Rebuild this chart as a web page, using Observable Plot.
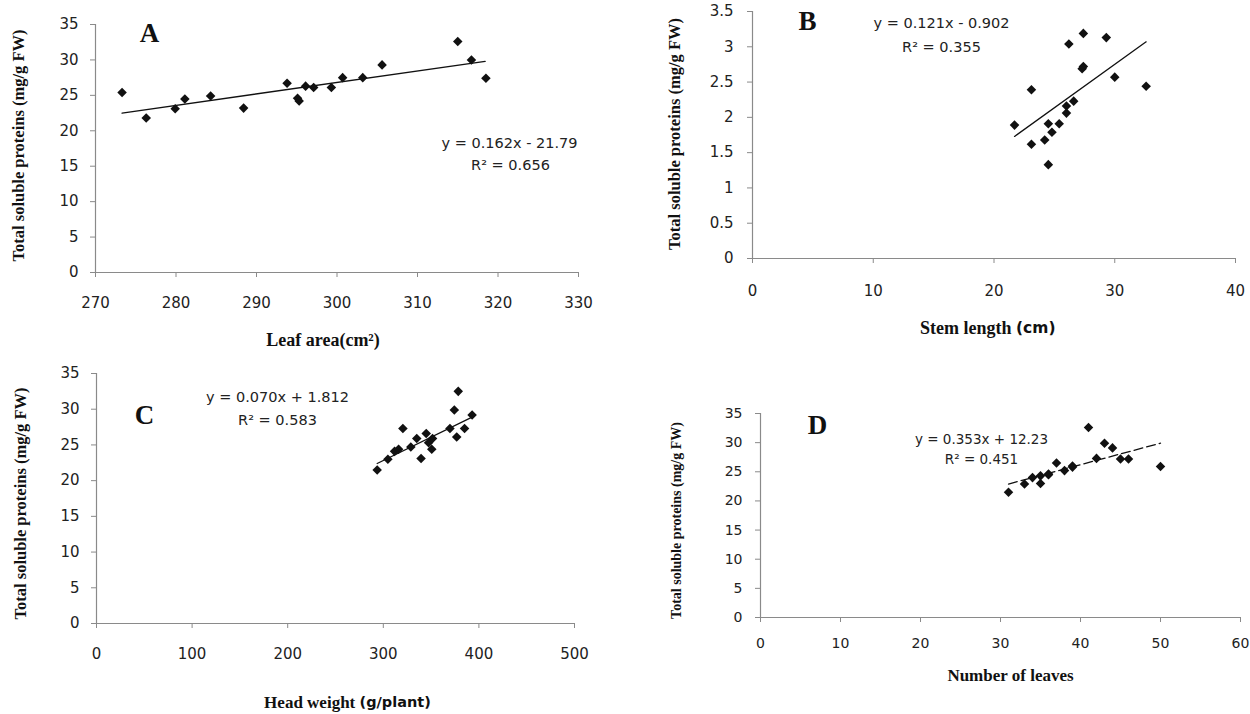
<!DOCTYPE html>
<html><head><meta charset="utf-8">
<script src="https://cdn.jsdelivr.net/npm/d3@7"></script>
<script src="https://cdn.jsdelivr.net/npm/@observablehq/plot@0.6"></script>
<style>
body{margin:0;background:#fff;}
#wrap{position:relative;width:1250px;height:714px;overflow:hidden;background:#fff;}
#wrap > *{position:absolute;}
</style></head><body><div id="wrap"></div>
<script>
// ---- Data ----
const yTitle = "Total soluble proteins (mg/g FW)";

// A: Leaf area
const leafArea = [273.3, 276.3, 279.9, 281.1, 284.3, 288.4, 293.8, 295.1, 295.3, 296.1, 297.1, 299.3, 300.7, 303.2, 305.6, 315.0, 316.7, 318.5];
const proteinA = [25.4, 21.8, 23.1, 24.5, 24.9, 23.2, 26.7, 24.6, 24.2, 26.3, 26.1, 26.1, 27.5, 27.5, 29.3, 32.6, 30.0, 27.4];
const trendAx = [273.3, 318.4];
const trendAy = [22.5, 29.8];
const xTicksA = [270, 280, 290, 300, 310, 320, 330];
const yTicksA = [0, 5, 10, 15, 20, 25, 30, 35];

// B: Stem length
const stemLength = [21.7, 23.1, 23.1, 24.2, 24.5, 24.5, 24.8, 25.4, 26.0, 26.0, 26.2, 26.6, 27.3, 27.4, 27.4, 29.3, 30.0, 32.6];
const proteinB = [1.89, 2.39, 1.62, 1.68, 1.91, 1.33, 1.79, 1.91, 2.06, 2.16, 3.04, 2.23, 2.69, 2.72, 3.19, 3.13, 2.57, 2.44];
const trendBx = [21.7, 32.6];
const trendBy = [1.73, 3.07];
const xTicksB = [0, 10, 20, 30, 40];
const yTicksB = [0, 0.5, 1, 1.5, 2, 2.5, 3, 3.5];

// C: Head weight
const headWeight = [293.6, 304.8, 311.8, 316.0, 320.5, 328.8, 335.0, 339.5, 344.9, 347.4, 350.7, 351.5, 369.7, 374.3, 376.8, 378.4, 385.0, 392.9];
const proteinC = [21.5, 23.0, 24.1, 24.4, 27.3, 24.7, 25.9, 23.1, 26.6, 25.3, 24.4, 25.9, 27.3, 29.9, 26.1, 32.5, 27.3, 29.2];
const trendCx = [293.6, 392.9];
const trendCy = [22.4, 28.9];
const xTicksC = [0, 100, 200, 300, 400, 500];
const yTicksC = [0, 5, 10, 15, 20, 25, 30, 35];

// D: Number of leaves
const leafCount = [31, 33, 34, 35, 35, 36, 36, 37, 38, 39, 39, 41, 42, 43, 44, 45, 46, 50];
const proteinD = [21.5, 22.9, 24.0, 24.3, 23.0, 24.5, 24.6, 26.5, 25.2, 25.8, 26.0, 32.6, 27.3, 29.9, 29.1, 27.2, 27.2, 25.9];
const trendDx = [31, 50];
const trendDy = [22.9, 29.9];
const xTicksD = [0, 10, 20, 30, 40, 50, 60];
const yTicksD = [0, 5, 10, 15, 20, 25, 30, 35];

// ---- Drawing ----
const SERIF = "'Liberation Serif', 'DejaVu Serif', serif";
const SANS = "'DejaVu Sans', 'Open Sans', sans-serif";
const AXIS = "#8a8a8a";
const INK = "#111";

function zip(xs, ys) { return xs.map((x, i) => ({x, y: ys[i]})); }

function panel(o) {
  const pts = zip(o.xs, o.ys);
  const trend = zip(o.tx, o.ty);
  const tf = o.tickFont || 15;
  const ef = o.eqFont || 14.5;
  const marks = [
    Plot.ruleY([o.yTicks[0]], {stroke: AXIS, strokeWidth: 1.2}),
    Plot.ruleX([o.xTicks[0]], {stroke: AXIS, strokeWidth: 1.2}),
    Plot.axisX({ticks: o.xTicks, tickSize: 5, tickPadding: o.xPad, stroke: AXIS, fill: "#222", label: null, fontSize: tf, tickFormat: d => String(d)}),
    Plot.axisY({ticks: o.yTicks, tickSize: 5, tickPadding: o.yPad, stroke: AXIS, fill: "#222", label: null, fontSize: tf, tickFormat: d => String(d)}),
    Plot.line(trend, {x: "x", y: "y", stroke: INK, strokeWidth: 1.3, strokeDasharray: o.dashed ? "9,4" : null}),
    Plot.dot(pts, {x: "x", y: "y", symbol: "diamond2", r: 4.3, fill: INK, stroke: null}),
    Plot.text([o.letter], {frameAnchor: "top-left", textAnchor: "middle", lineAnchor: "middle", dx: o.letterPos[0], dy: o.letterPos[1], fontFamily: SERIF, fontWeight: "bold", fontSize: 27, fill: INK}),
    Plot.text([o.eq], {frameAnchor: "top-left", textAnchor: "middle", lineAnchor: "middle", dx: o.eqPos[0], dy: o.eqPos[1], fontFamily: SANS, fontSize: ef, fill: "#222"}),
    Plot.text([o.r2], {frameAnchor: "top-left", textAnchor: "middle", lineAnchor: "middle", dx: o.r2Pos[0], dy: o.r2Pos[1], fontFamily: SANS, fontSize: ef, fill: "#222"}),
    Plot.text([yTitle], {frameAnchor: "left", rotate: -90, textAnchor: "middle", lineAnchor: "middle", dx: o.yTitlePos[0], dy: o.yTitlePos[1], fontFamily: SERIF, fontWeight: "bold", fontSize: o.yTitleSize || 16.5, fill: INK})
  ];
  const xf = o.xTitleSize || 18;
  marks.push(Plot.text([o.xTitle[0]], {frameAnchor: "bottom", textAnchor: o.xTitle[1] ? "end" : "middle", lineAnchor: "middle", dx: o.xTitlePos[0], dy: o.xTitlePos[1], fontFamily: SERIF, fontWeight: "bold", fontSize: xf, fill: INK}));
  if (o.xTitle[1]) {
    marks.push(Plot.text([o.xTitle[1]], {frameAnchor: "bottom", textAnchor: "start", lineAnchor: "middle", dx: o.xTitlePos[0], dy: o.xTitlePos[1], fontFamily: SANS, fontWeight: 600, fontSize: xf - 2.5, fill: INK}));
  }
  const svg = Plot.plot({
    width: o.width, height: o.height,
    marginLeft: o.m[0], marginRight: o.m[1], marginTop: o.m[2], marginBottom: o.m[3],
    x: {domain: [o.xTicks[0], o.xTicks[o.xTicks.length - 1]]},
    y: {domain: [o.yTicks[0], o.yTicks[o.yTicks.length - 1]]},
    style: {fontFamily: SANS, fontSize: tf + "px", background: "transparent", overflow: "visible"},
    marks
  });
  svg.style.left = o.left + "px";
  svg.style.top = o.top + "px";
  document.getElementById("wrap").appendChild(svg);
}

panel({
  left: 0, top: 0, width: 620, height: 360, m: [95, 42, 24, 88],
  xs: leafArea, ys: proteinA, tx: trendAx, ty: trendAy,
  xTicks: xTicksA, yTicks: yTicksA, xPad: 20, yPad: 12,
  letter: "A", letterPos: [54, 9],
  eq: "y = 0.162x - 21.79", eqPos: [414, 119],
  r2: "R² = 0.656", r2Pos: [415, 141],
  xTitle: ["Leaf area(cm²)"], xTitlePos: [-14, 68],
  yTitlePos: [-77, -3]
});

panel({
  left: 620, top: 0, width: 630, height: 360, m: [132, 15, 11, 102],
  xs: stemLength, ys: proteinB, tx: trendBx, ty: trendBy,
  xTicks: xTicksB, yTicks: yTicksB, xPad: 22, yPad: 14,
  letter: "B", letterPos: [55, 10],
  eq: "y = 0.121x - 0.902", eqPos: [189, 12],
  r2: "R² = 0.355", r2Pos: [189, 36],
  xTitle: ["Stem length ", "(cm)"], xTitlePos: [22, 70],
  yTitlePos: [-78, -1]
});

panel({
  left: 0, top: 360, width: 620, height: 354, m: [96, 46, 13, 91],
  xs: headWeight, ys: proteinC, tx: trendCx, ty: trendCy,
  xTicks: xTicksC, yTicks: yTicksC, xPad: 20, yPad: 12,
  letter: "C", letterPos: [48, 42],
  eq: "y = 0.070x + 1.812", eqPos: [181, 24],
  r2: "R² = 0.583", r2Pos: [181, 47],
  xTitle: ["Head weight ", "(g/plant)"], xTitlePos: [24, 79], xTitleSize: 17,
  yTitlePos: [-76, 5]
});

panel({
  left: 620, top: 360, width: 630, height: 354, m: [140, 10, 53, 97],
  xs: leafCount, ys: proteinD, tx: trendDx, ty: trendDy, dashed: true,
  xTicks: xTicksD, yTicks: yTicksD, xPad: 16, yPad: 13, tickFont: 14,
  letter: "D", letterPos: [57, 12],
  eq: "y = 0.353x + 12.23", eqPos: [221, 26], eqFont: 13.5,
  r2: "R² = 0.451", r2Pos: [221, 46],
  xTitle: ["Number of leaves"], xTitlePos: [10, 58], xTitleSize: 17,
  yTitlePos: [-84, 5], yTitleSize: 14
});
</script>
</body></html>
